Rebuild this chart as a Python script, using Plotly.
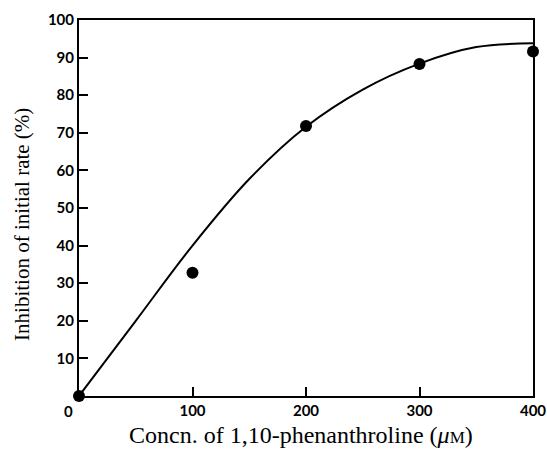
import plotly.graph_objects as go

# Measured inhibition at each 1,10-phenanthroline concentration
conc_uM = [0, 100, 200, 300, 400]
inhibition_pct = [0, 32.8, 71.8, 88.3, 91.6]

# Points along the smooth fitted curve
curve_conc = [0, 50, 100, 150, 200, 250, 300, 350, 400]
curve_inhib = [0, 20.0, 40.0, 57.7, 71.6, 81.5, 88.4, 92.8, 93.8]

x_ticks = [100, 200, 300, 400]
y_ticks = [10, 20, 30, 40, 50, 60, 70, 80, 90, 100]

tick_font = dict(family="Lato", size=15, color="black", weight="bold")
x_title_font = dict(family="Liberation Serif", size=24, color="black")
y_title_font = dict(family="Liberation Serif", size=21, color="black")

fig = go.Figure()
fig.add_trace(go.Scatter(
    x=curve_conc, y=curve_inhib, mode="lines",
    line=dict(color="black", width=2, shape="spline", smoothing=1.0),
    hoverinfo="skip", cliponaxis=False,
))
fig.add_trace(go.Scatter(
    x=conc_uM, y=inhibition_pct, mode="markers",
    marker=dict(color="black", size=12),
    cliponaxis=False,
))

axis_common = dict(
    showgrid=False, zeroline=False, showline=True, linecolor="black",
    linewidth=2, mirror=True, ticks="inside", ticklen=9, tickwidth=2,
    tickcolor="black", tickfont=tick_font, automargin=False,
)

fig.update_layout(
    width=547, height=449,
    margin=dict(l=79, r=14, t=20, b=53),
    paper_bgcolor="white", plot_bgcolor="white",
    showlegend=False,
    xaxis=dict(range=[0, 400], tickvals=x_ticks, **axis_common),
    yaxis=dict(range=[0, 100], tickvals=y_ticks, **axis_common),
    annotations=[
        dict(text="0", x=0, y=0, xref="x", yref="y", showarrow=False,
             xshift=-11, yshift=-15, font=tick_font),
        dict(text="Concn. of 1,10-phenanthroline (<i>μ</i><span style='font-size:17px'>M</span>)",
             x=0.49, y=0, xref="paper", yref="paper", xanchor="center", yanchor="top",
             yshift=-24, showarrow=False, font=x_title_font),
        dict(text="Inhibition of initial rate (%)", textangle=-90,
             x=0, y=0.455, xref="paper", yref="paper", xanchor="center", yanchor="middle",
             xshift=-57, showarrow=False, font=y_title_font),
    ],
)

fig.write_html("out.html")
